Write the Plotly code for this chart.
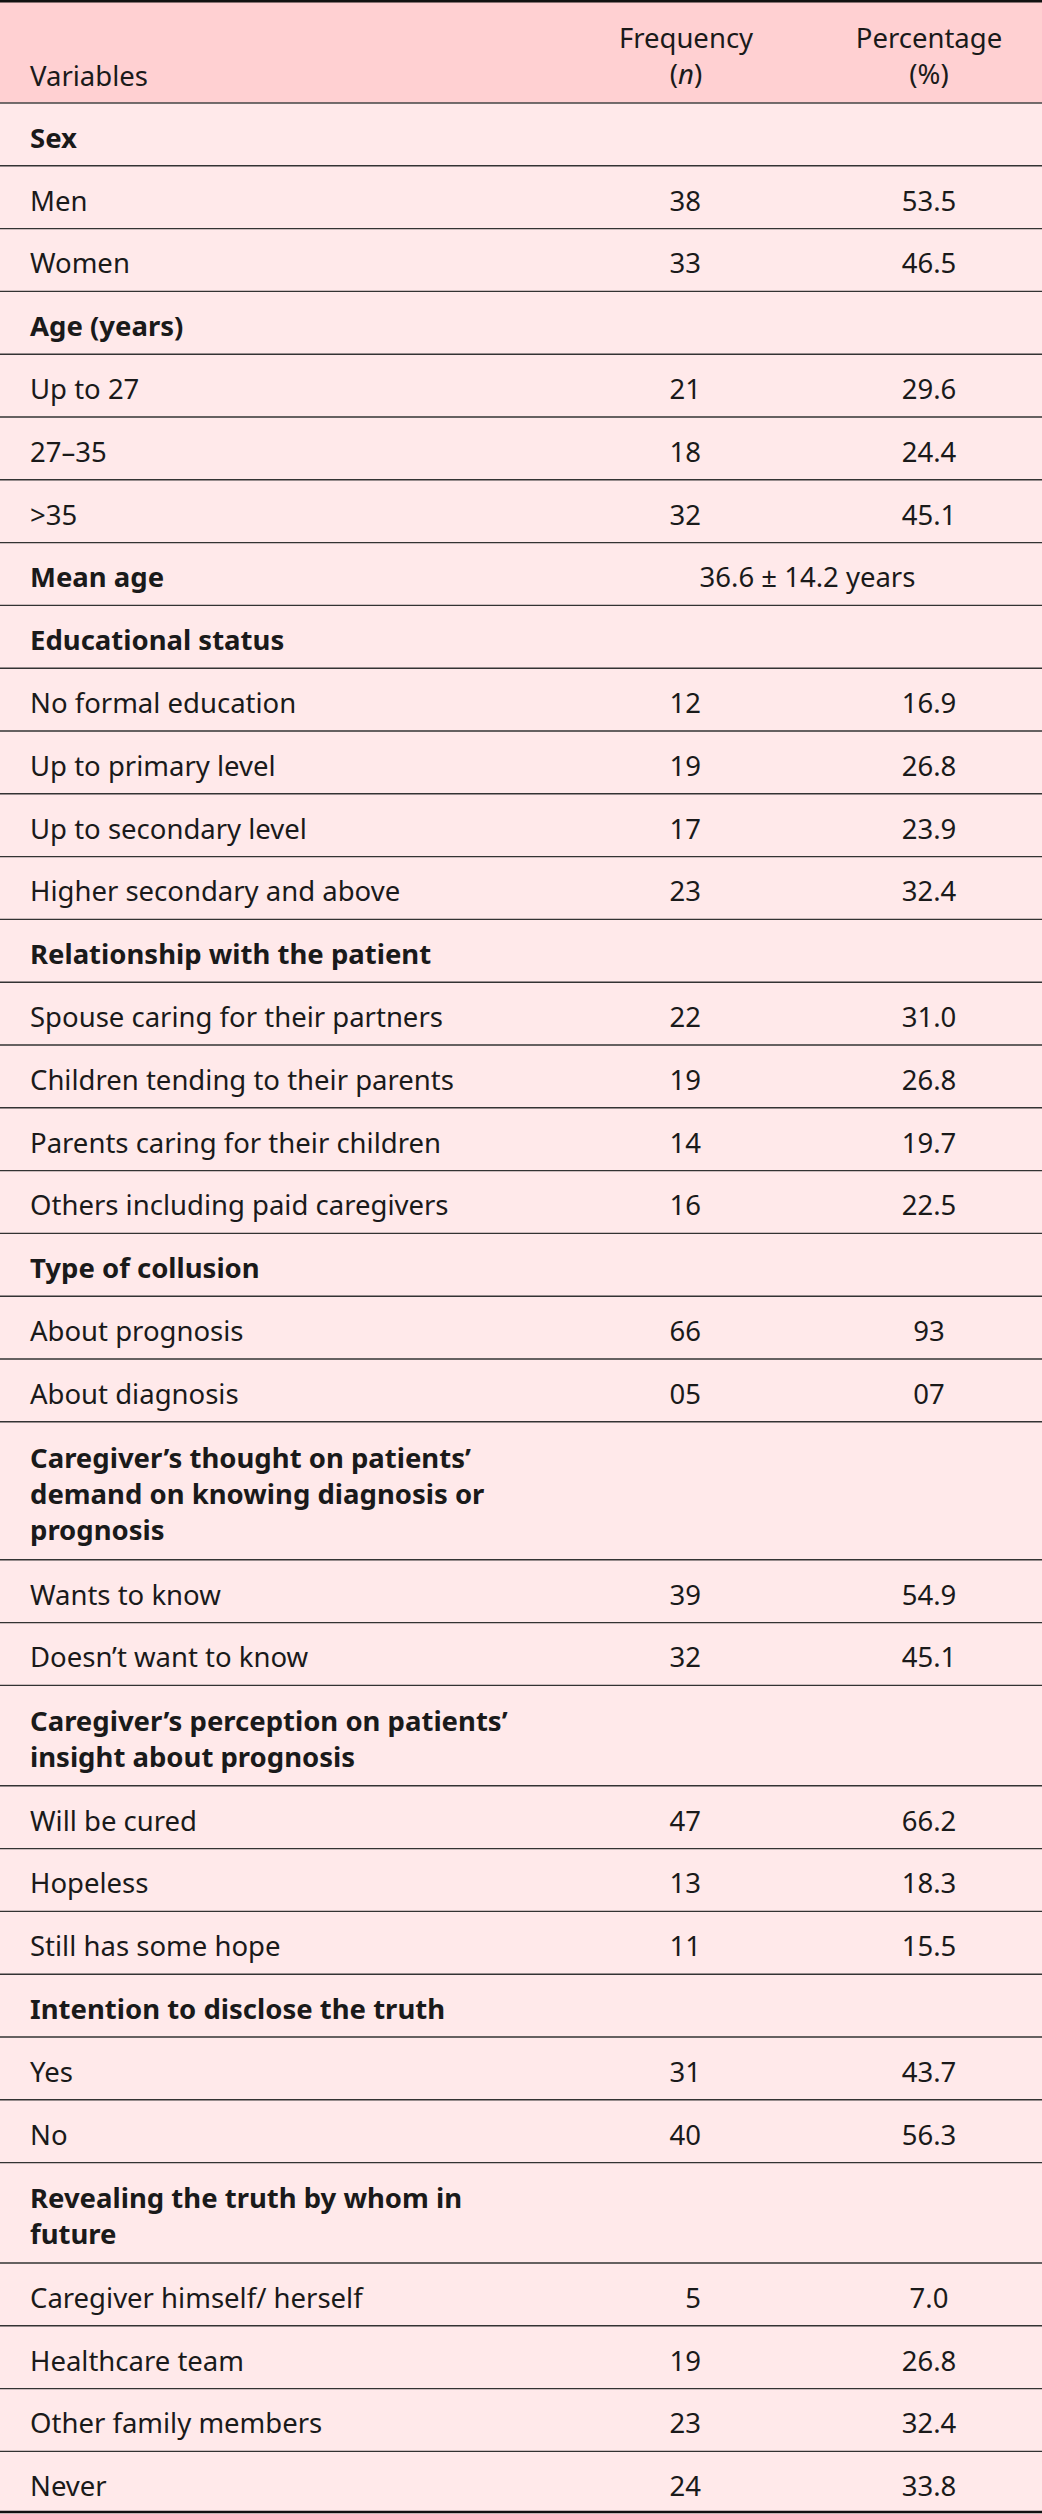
import numpy as np
import plotly.graph_objects as go

# ---- table data ----
header_labels = ["Variables", "Frequency<br>(<i>n</i>)", "Percentage<br>(%)"]

row_labels = [
    "<b>Sex</b>", "Men", "Women",
    "<b>Age (years)</b>", "Up to 27", "27–35", ">35",
    "<b>Mean age</b>",
    "<b>Educational status</b>", "No formal education", "Up to primary level",
    "Up to secondary level", "Higher secondary and above",
    "<b>Relationship with the patient</b>", "Spouse caring for their partners",
    "Children tending to their parents", "Parents caring for their children",
    "Others including paid caregivers",
    "<b>Type of collusion</b>", "About prognosis", "About diagnosis",
    "<b>Caregiver’s thought on patients’<br>demand on knowing diagnosis or<br>prognosis</b>",
    "Wants to know", "Doesn’t want to know",
    "<b>Caregiver’s perception on patients’<br>insight about prognosis</b>",
    "Will be cured", "Hopeless", "Still has some hope",
    "<b>Intention to disclose the truth</b>", "Yes", "No",
    "<b>Revealing the truth by whom in<br>future</b>",
    "Caregiver himself/ herself", "Healthcare team", "Other family members", "Never",
]
row_freq = [
    "", "38", "33",
    "", "21", "18", "32",
    "",
    "", "12", "19", "17", "23",
    "", "22", "19", "14", "16",
    "", "66", "05",
    "", "39", "32",
    "", "47", "13", "11",
    "", "31", "40",
    "", "5", "19", "23", "24",
]
row_pct = [
    "", "53.5", "46.5",
    "", "29.6", "24.4", "45.1",
    "",
    "", "16.9", "26.8", "23.9", "32.4",
    "", "31.0", "26.8", "19.7", "22.5",
    "", "93", "07",
    "", "54.9", "45.1",
    "", "66.2", "18.3", "15.5",
    "", "43.7", "56.3",
    "", "7.0", "26.8", "32.4", "33.8",
]
spanning_text = {"<b>Mean age</b>": "36.6 ± 14.2 years"}

# ---- layout geometry ----
W, H = 1042, 2514
HEADER_H = 103
ROW_H = 62.8
EXTRA_LINE = 37.6
X_LABEL, X_FREQ, X_PCT = 30, 686, 929
X_FREQ_RIGHT = 701  # frequency digits are right-aligned
FONT = "'Noto Sans', Lato, sans-serif"
FS = 27.5

n_lines = np.array([lbl.count("<br>") + 1 for lbl in row_labels])
heights = ROW_H + EXTRA_LINE * (n_lines - 1)
tops = HEADER_H + np.concatenate([[0], np.cumsum(heights)[:-1]])
bottoms = tops + heights
centers = (tops + bottoms) / 2 + 6.5

fig = go.Figure()

# backgrounds
fig.add_shape(type="rect", x0=0, x1=W, y0=0, y1=HEADER_H, fillcolor="#ffd0d2",
              line_width=0, layer="below")
fig.add_shape(type="rect", x0=0, x1=W, y0=HEADER_H, y1=H, fillcolor="#ffe9ea",
              line_width=0, layer="below")

# horizontal rules
fig.add_shape(type="line", x0=0, x1=W, y0=1.2, y1=1.2, line=dict(color="#111111", width=2.5))
fig.add_shape(type="line", x0=0, x1=W, y0=HEADER_H, y1=HEADER_H, line=dict(color="#444444", width=1.6))
for b in bottoms[:-1]:
    fig.add_shape(type="line", x0=0, x1=W, y0=b, y1=b, line=dict(color="#333333", width=1.4))
fig.add_shape(type="line", x0=0, x1=W, y0=H - 2, y1=H - 2,
              line=dict(color="#111111", width=2.5))

txt_font = dict(family=FONT, size=FS, color="#1a1a1a")

# header
fig.add_trace(go.Scatter(x=[X_LABEL], y=[79], mode="text", text=[header_labels[0]],
                         textposition="middle right", textfont=txt_font, hoverinfo="skip"))
fig.add_trace(go.Scatter(x=[X_FREQ, X_PCT], y=[59, 59], mode="text", text=header_labels[1:],
                         textposition="middle center", textfont=txt_font, hoverinfo="skip"))

# body labels
fig.add_trace(go.Scatter(x=[X_LABEL] * len(row_labels), y=centers, mode="text", text=row_labels,
                         textposition="middle right", textfont=txt_font, hoverinfo="skip"))
fig.add_trace(go.Scatter(x=[X_FREQ_RIGHT] * len(row_freq), y=centers, mode="text", text=row_freq,
                         textposition="middle left", textfont=txt_font, hoverinfo="skip"))
fig.add_trace(go.Scatter(x=[X_PCT] * len(row_pct), y=centers, mode="text", text=row_pct,
                         textposition="middle center", textfont=txt_font, hoverinfo="skip"))

# spanning cell (mean age)
span_idx = [row_labels.index(k) for k in spanning_text]
fig.add_trace(go.Scatter(x=[(X_FREQ + X_PCT) / 2] * len(span_idx), y=centers[span_idx],
                         mode="text", text=list(spanning_text.values()),
                         textposition="middle center", textfont=txt_font, hoverinfo="skip"))

fig.update_layout(
    width=W, height=H,
    margin=dict(l=0, r=0, t=0, b=0),
    paper_bgcolor="#ffe9ea", plot_bgcolor="#ffe9ea",
    showlegend=False,
    xaxis=dict(range=[0, W], visible=False, fixedrange=True),
    yaxis=dict(range=[H, 0], visible=False, fixedrange=True),
)

# drop the default page margin so the table sits flush with the window
fig.write_html("out.html", config={"displayModeBar": False},
               post_script="document.body.style.margin='0';")
